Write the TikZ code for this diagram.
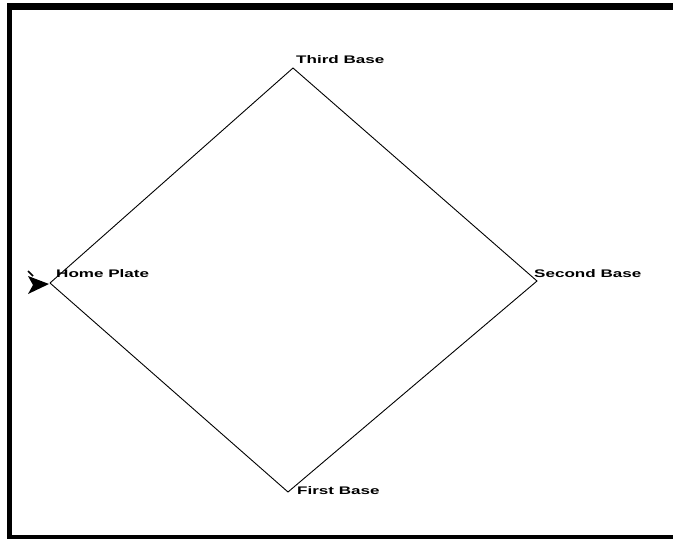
\documentclass[tikz,border=0pt]{standalone}
\usepackage{fontspec}
\setmainfont{Liberation Sans}
\newfontfamily\lblfont[FakeStretch=1.55]{Liberation Sans Bold}
\begin{document}
\begin{tikzpicture}[x=1pt,y=-1pt,
  lbl/.style={anchor=west,inner sep=0pt,font=\lblfont\fontsize{11}{11}\selectfont},
  edge/.style={draw=black,line width=0.9pt}]
\useasboundingbox (0,0) rectangle (673,539);
\fill[white] (0,0) rectangle (673,539);
% frame
\fill[black] (7,3) rectangle (673,10);
\fill[black] (7,3) rectangle (12,539);
\fill[black] (7,535) rectangle (673,539);
% base points
\coordinate (home) at (50,283);
\coordinate (third) at (293,68);
\coordinate (second) at (537,281);
\coordinate (first) at (288,492);
\draw[edge] (home) -- (third) -- (second) -- (first) -- (home);
% home marker
\fill[black] (28,276) -- (49,284) -- (28,294) -- (33,285) -- cycle;
\draw[line width=1.5pt] (28,271) -- (33,276);
% labels
\node[lbl] (tb) at (296,60) {Third Base};
\node[lbl] (hp) at (56,274) {Home Plate};
\node[lbl] (sb) at (534,274) {Second Base};
\node[lbl] (fb) at (297,491) {First Base};
\end{tikzpicture}
\end{document}
